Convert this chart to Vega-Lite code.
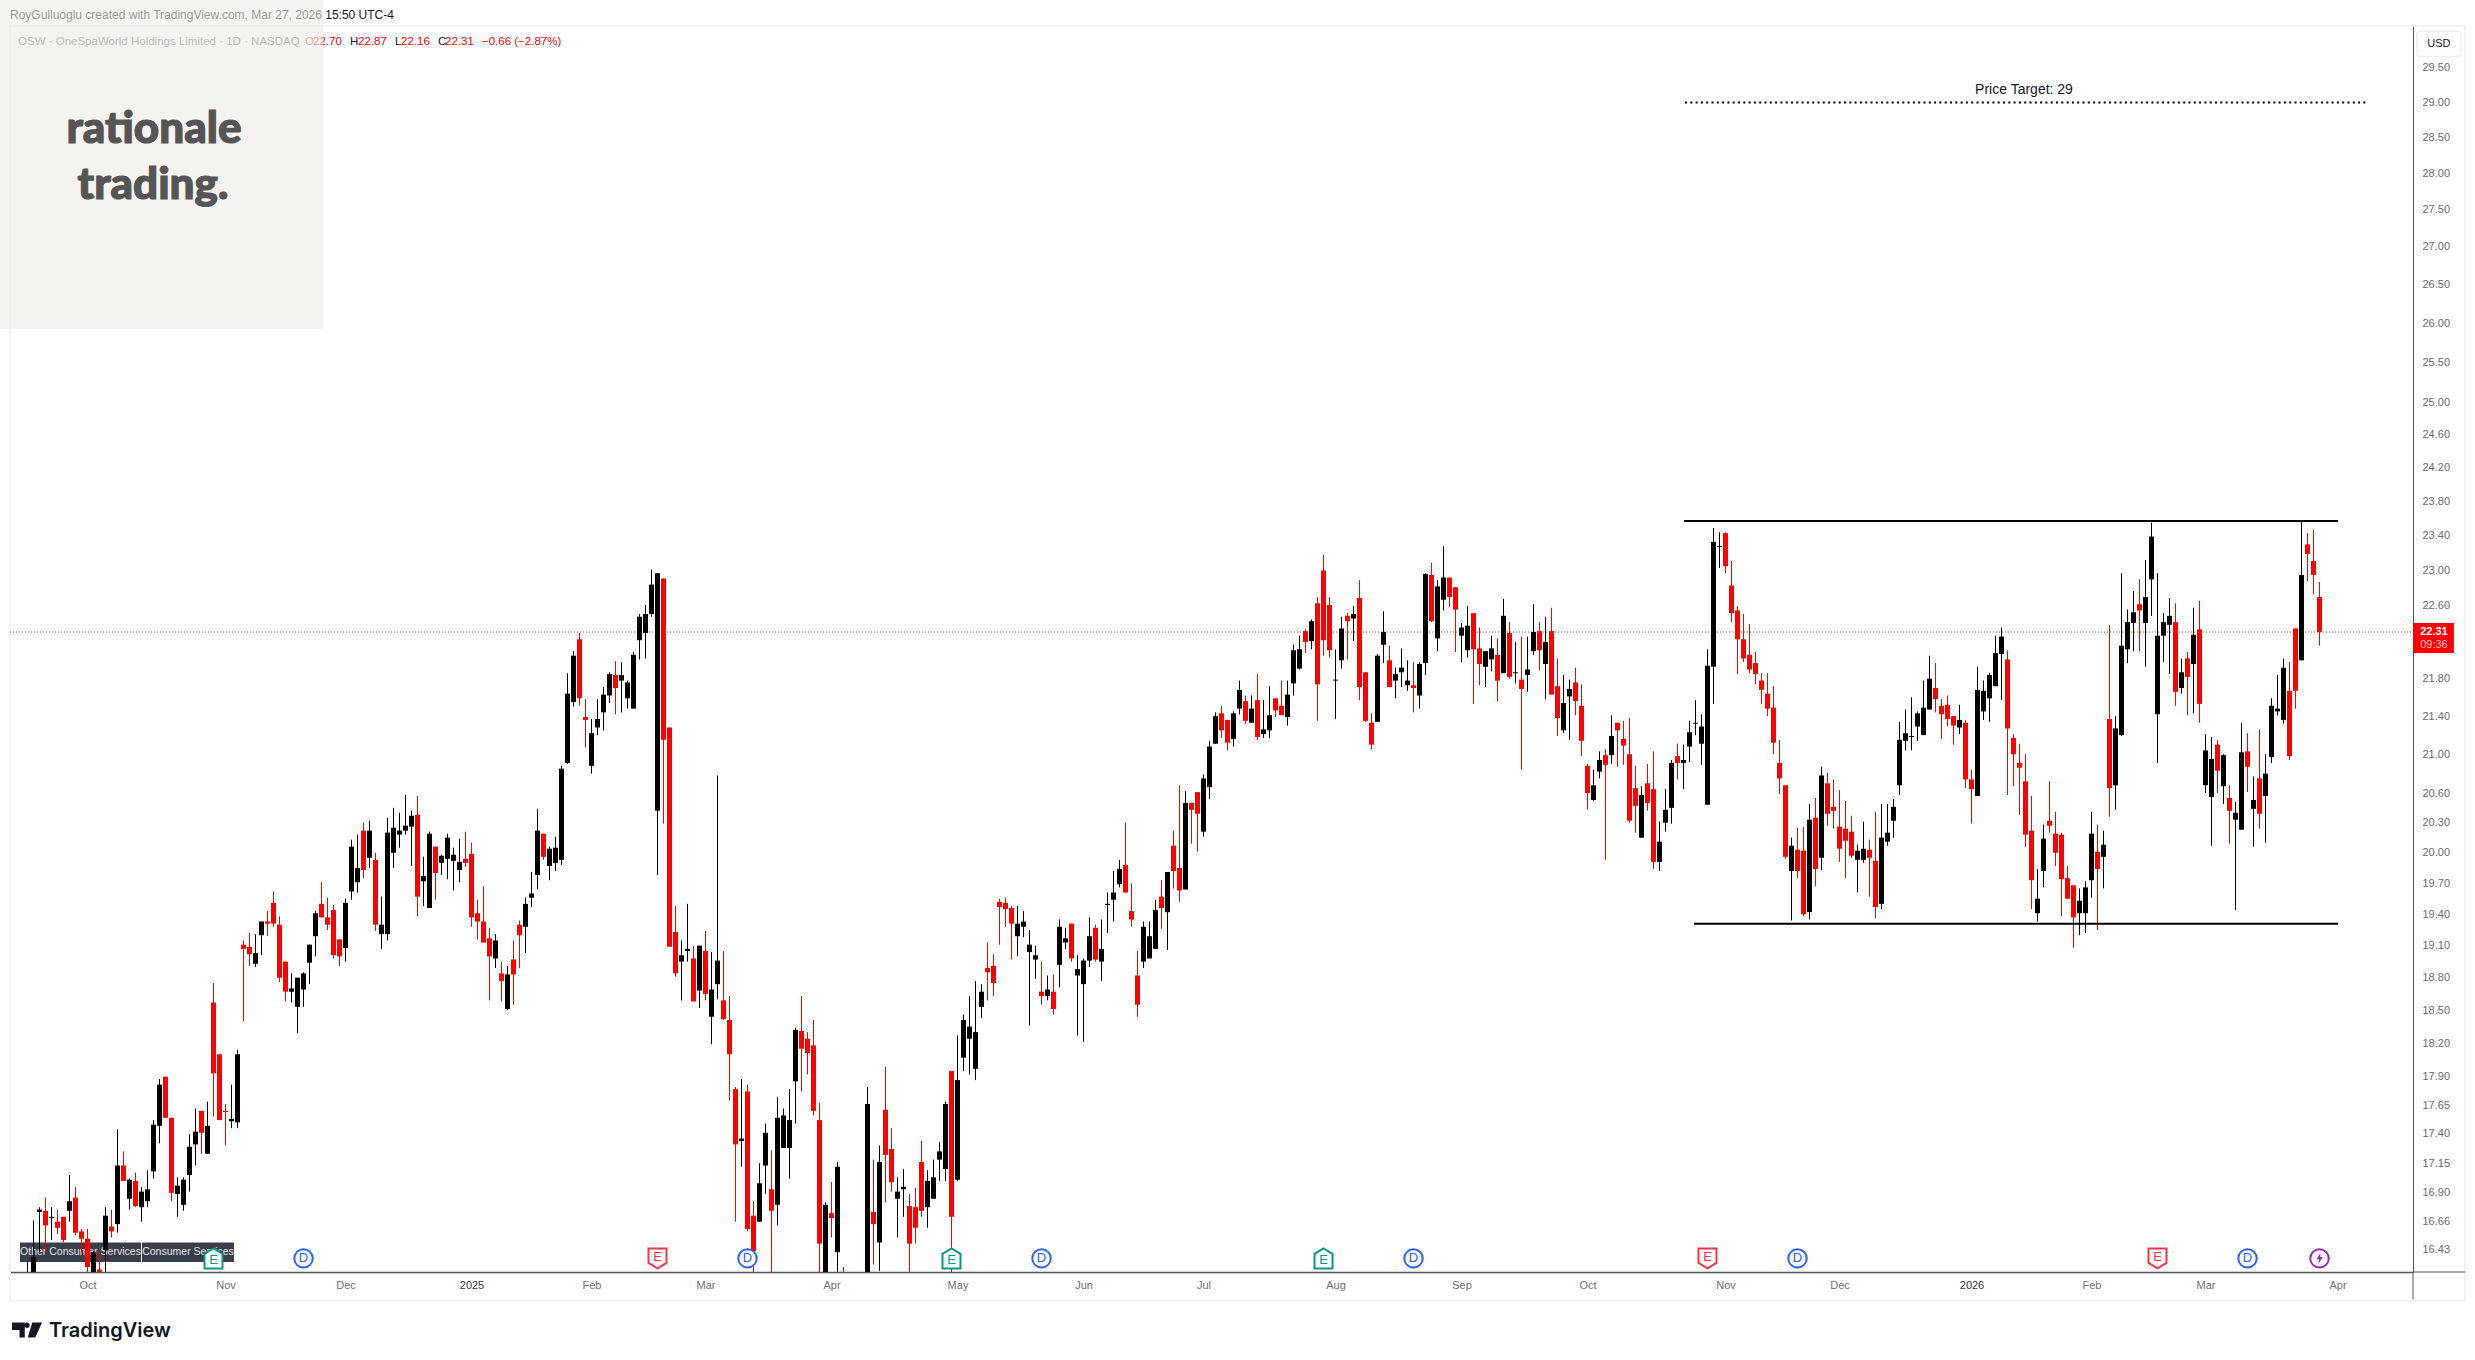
{"$schema":"https://vega.github.io/schema/vega-lite/v6.json","autosize":{"type":"none"},"width":2403,"height":1246,"padding":{"left":10,"top":26,"right":62,"bottom":88},"background":"#ffffff","config":{"view":{"stroke":null},"text":{"font":"Liberation Sans"}},
"datasets":{"ohlc":[
{"i":0,"o":15.9,"h":16.33,"l":15.7,"c":16.2},{"i":1,"o":16.0,"h":16.67,"l":15.9,"c":16.37},{"i":2,"o":16.74,"h":16.78,"l":16.41,"c":16.76},{"i":3,"o":16.75,"h":16.86,"l":16.41,"c":16.63},{"i":4,"o":16.69,"h":16.78,"l":16.51,"c":16.7},{"i":5,"o":16.66,"h":16.76,"l":16.56,"c":16.61},{"i":6,"o":16.7,"h":16.7,"l":16.49,"c":16.51},{"i":7,"o":16.75,"h":17.05,"l":16.66,"c":16.83},{"i":8,"o":16.86,"h":16.95,"l":16.55,"c":16.57},{"i":9,"o":16.58,"h":16.6,"l":16.41,"c":16.52},
{"i":10,"o":16.52,"h":16.6,"l":16.2,"c":16.29},{"i":11,"o":16.0,"h":16.42,"l":15.9,"c":16.41},{"i":12,"o":16.27,"h":16.42,"l":16.1,"c":16.24},{"i":13,"o":16.43,"h":16.78,"l":16.2,"c":16.71},{"i":14,"o":16.62,"h":16.76,"l":16.53,"c":16.58},{"i":15,"o":16.64,"h":17.44,"l":16.57,"c":17.13},{"i":16,"o":17.13,"h":17.25,"l":17.0,"c":17.0},{"i":17,"o":16.85,"h":17.02,"l":16.76,"c":17.01},{"i":18,"o":17.0,"h":17.07,"l":16.78,"c":16.79},{"i":19,"o":16.78,"h":16.95,"l":16.66,"c":16.91},
{"i":20,"o":16.83,"h":17.09,"l":16.78,"c":16.93},{"i":21,"o":17.08,"h":17.52,"l":17.02,"c":17.48},{"i":22,"o":17.47,"h":17.88,"l":17.32,"c":17.83},{"i":23,"o":17.9,"h":17.9,"l":17.54,"c":17.54},{"i":24,"o":17.54,"h":17.54,"l":16.83,"c":16.9},{"i":25,"o":16.89,"h":17.03,"l":16.7,"c":16.96},{"i":26,"o":16.8,"h":17.03,"l":16.75,"c":17.01},{"i":27,"o":17.05,"h":17.4,"l":16.91,"c":17.29},{"i":28,"o":17.31,"h":17.62,"l":17.13,"c":17.42},{"i":29,"o":17.6,"h":17.6,"l":17.23,"c":17.41},
{"i":30,"o":17.23,"h":17.68,"l":17.23,"c":17.47},{"i":31,"o":18.57,"h":18.75,"l":17.55,"c":17.93},{"i":32,"o":18.1,"h":18.1,"l":17.52,"c":17.52},{"i":33,"o":17.6,"h":17.66,"l":17.3,"c":17.59},{"i":34,"o":17.51,"h":17.83,"l":17.45,"c":17.53},{"i":35,"o":17.5,"h":18.14,"l":17.45,"c":18.1},{"i":36,"o":19.11,"h":19.15,"l":18.4,"c":19.07},{"i":37,"o":19.09,"h":19.22,"l":18.91,"c":19.02},{"i":38,"o":18.93,"h":19.21,"l":18.9,"c":19.03},{"i":39,"o":19.2,"h":19.33,"l":19.01,"c":19.33},
{"i":40,"o":19.33,"h":19.43,"l":19.19,"c":19.31},{"i":41,"o":19.51,"h":19.62,"l":19.28,"c":19.31},{"i":42,"o":19.3,"h":19.38,"l":18.76,"c":18.8},{"i":43,"o":18.95,"h":18.95,"l":18.58,"c":18.67},{"i":44,"o":18.67,"h":18.84,"l":18.57,"c":18.7},{"i":45,"o":18.53,"h":18.8,"l":18.29,"c":18.8},{"i":46,"o":18.69,"h":18.85,"l":18.53,"c":18.84},{"i":47,"o":18.94,"h":19.11,"l":18.74,"c":19.11},{"i":48,"o":19.19,"h":19.43,"l":19.0,"c":19.41},{"i":49,"o":19.5,"h":19.71,"l":19.37,"c":19.37},
{"i":50,"o":19.37,"h":19.56,"l":19.25,"c":19.3},{"i":51,"o":19.44,"h":19.49,"l":18.98,"c":19.01},{"i":52,"o":19.16,"h":19.16,"l":18.91,"c":19.0},{"i":53,"o":19.08,"h":19.55,"l":18.95,"c":19.51},{"i":54,"o":19.62,"h":20.13,"l":19.54,"c":20.06},{"i":55,"o":19.71,"h":20.18,"l":19.61,"c":19.85},{"i":56,"o":20.22,"h":20.3,"l":19.75,"c":19.83},{"i":57,"o":19.95,"h":20.32,"l":19.85,"c":20.22},{"i":58,"o":19.93,"h":20.0,"l":19.24,"c":19.3},{"i":59,"o":19.21,"h":19.57,"l":19.07,"c":19.3},
{"i":60,"o":19.21,"h":20.35,"l":19.15,"c":20.2},{"i":61,"o":20.0,"h":20.45,"l":19.85,"c":20.25},{"i":62,"o":20.18,"h":20.4,"l":20.05,"c":20.22},{"i":63,"o":20.22,"h":20.58,"l":20.18,"c":20.27},{"i":64,"o":20.26,"h":20.42,"l":19.87,"c":20.37},{"i":65,"o":20.38,"h":20.57,"l":19.38,"c":19.57},{"i":66,"o":19.72,"h":19.96,"l":19.48,"c":19.77},{"i":67,"o":19.46,"h":20.21,"l":19.46,"c":20.19},{"i":68,"o":20.06,"h":20.06,"l":19.54,"c":19.8},{"i":69,"o":19.9,"h":19.98,"l":19.78,"c":19.97},
{"i":70,"o":19.94,"h":20.19,"l":19.74,"c":20.15},{"i":71,"o":19.92,"h":20.05,"l":19.63,"c":19.98},{"i":72,"o":19.83,"h":20.14,"l":19.71,"c":19.91},{"i":73,"o":19.94,"h":20.21,"l":19.86,"c":19.9},{"i":74,"o":19.99,"h":20.1,"l":19.28,"c":19.37},{"i":75,"o":19.41,"h":19.54,"l":19.16,"c":19.33},{"i":76,"o":19.33,"h":19.67,"l":19.13,"c":19.13},{"i":77,"o":19.17,"h":19.27,"l":18.59,"c":19.0},{"i":78,"o":18.98,"h":19.21,"l":18.89,"c":19.15},{"i":79,"o":18.84,"h":18.95,"l":18.58,"c":18.77},
{"i":80,"o":18.51,"h":18.91,"l":18.5,"c":18.83},{"i":81,"o":18.97,"h":19.15,"l":18.55,"c":18.83},{"i":82,"o":19.3,"h":19.34,"l":18.89,"c":19.2},{"i":83,"o":19.28,"h":19.56,"l":19.03,"c":19.5},{"i":84,"o":19.56,"h":19.81,"l":19.47,"c":19.6},{"i":85,"o":19.78,"h":20.44,"l":19.64,"c":20.22},{"i":86,"o":20.19,"h":20.19,"l":19.93,"c":19.96},{"i":87,"o":19.87,"h":20.06,"l":19.73,"c":20.04},{"i":88,"o":19.9,"h":20.16,"l":19.82,"c":20.05},{"i":89,"o":19.93,"h":20.88,"l":19.88,"c":20.85},
{"i":90,"o":20.91,"h":21.86,"l":20.9,"c":21.64},{"i":91,"o":21.55,"h":22.1,"l":21.5,"c":22.05},{"i":92,"o":22.23,"h":22.3,"l":21.51,"c":21.59},{"i":93,"o":21.39,"h":21.58,"l":21.07,"c":21.36},{"i":94,"o":20.88,"h":21.37,"l":20.8,"c":21.22},{"i":95,"o":21.28,"h":21.58,"l":21.2,"c":21.37},{"i":96,"o":21.44,"h":21.71,"l":21.25,"c":21.63},{"i":97,"o":21.62,"h":21.87,"l":21.54,"c":21.85},{"i":98,"o":21.84,"h":21.99,"l":21.42,"c":21.7},{"i":99,"o":21.78,"h":21.98,"l":21.44,"c":21.84},
{"i":100,"o":21.59,"h":21.78,"l":21.48,"c":21.76},{"i":101,"o":21.48,"h":22.09,"l":21.48,"c":22.06},{"i":102,"o":22.22,"h":22.51,"l":22.01,"c":22.48},{"i":103,"o":22.3,"h":22.61,"l":22.02,"c":22.51},{"i":104,"o":22.51,"h":23.01,"l":22.48,"c":22.84},{"i":105,"o":20.42,"h":22.97,"l":19.78,"c":22.97},{"i":106,"o":22.91,"h":22.91,"l":20.29,"c":21.15},{"i":107,"o":21.28,"h":21.28,"l":19.09,"c":19.09},{"i":108,"o":19.23,"h":19.48,"l":18.81,"c":18.84},{"i":109,"o":18.95,"h":19.15,"l":18.59,"c":19.01},
{"i":110,"o":19.05,"h":19.5,"l":18.95,"c":19.07},{"i":111,"o":18.98,"h":19.1,"l":18.58,"c":18.58},{"i":112,"o":18.68,"h":19.1,"l":18.52,"c":19.1},{"i":113,"o":19.05,"h":19.24,"l":18.59,"c":18.65},{"i":114,"o":18.44,"h":19.04,"l":18.19,"c":18.69},{"i":115,"o":18.74,"h":20.78,"l":18.6,"c":18.96},{"i":116,"o":18.59,"h":19.05,"l":18.41,"c":18.42},{"i":117,"o":18.41,"h":18.63,"l":17.69,"c":18.1},{"i":118,"o":17.79,"h":17.81,"l":16.66,"c":17.31},{"i":119,"o":17.34,"h":17.88,"l":17.12,"c":17.36},
{"i":120,"o":17.77,"h":17.83,"l":16.58,"c":16.6},{"i":121,"o":16.71,"h":16.83,"l":16.24,"c":16.42},{"i":122,"o":16.66,"h":17.15,"l":16.66,"c":16.98},{"i":123,"o":17.13,"h":17.49,"l":16.89,"c":17.41},{"i":124,"o":16.93,"h":17.26,"l":16.1,"c":16.75},{"i":125,"o":16.8,"h":17.72,"l":16.63,"c":17.54},{"i":126,"o":17.28,"h":17.62,"l":17.28,"c":17.56},{"i":127,"o":17.28,"h":17.79,"l":17.02,"c":17.52},{"i":128,"o":17.86,"h":18.34,"l":17.49,"c":18.32},{"i":129,"o":18.31,"h":18.63,"l":17.77,"c":18.15},
{"i":130,"o":18.24,"h":18.3,"l":17.92,"c":18.11},{"i":131,"o":18.18,"h":18.41,"l":17.56,"c":17.6},{"i":132,"o":17.52,"h":17.67,"l":16.0,"c":16.48},{"i":133,"o":16.0,"h":16.82,"l":15.9,"c":16.8},{"i":134,"o":16.73,"h":16.99,"l":16.53,"c":16.69},{"i":135,"o":16.41,"h":17.16,"l":16.1,"c":17.12},{"i":136,"o":16.1,"h":16.29,"l":15.6,"c":15.8},{"i":137,"o":15.6,"h":16.1,"l":15.4,"c":15.9},{"i":138,"o":15.4,"h":16.1,"l":15.3,"c":15.8},{"i":139,"o":15.5,"h":16.15,"l":15.4,"c":16.0},
{"i":140,"o":15.9,"h":17.81,"l":15.7,"c":17.66},{"i":141,"o":16.74,"h":17.18,"l":16.31,"c":16.64},{"i":142,"o":16.49,"h":17.3,"l":16.26,"c":17.16},{"i":143,"o":17.61,"h":17.99,"l":16.82,"c":17.22},{"i":144,"o":17.27,"h":17.45,"l":16.91,"c":16.99},{"i":145,"o":16.85,"h":17.03,"l":16.53,"c":16.91},{"i":146,"o":16.93,"h":17.1,"l":16.7,"c":16.95},{"i":147,"o":16.79,"h":16.89,"l":16.1,"c":16.48},{"i":148,"o":16.78,"h":16.94,"l":16.48,"c":16.61},{"i":149,"o":17.16,"h":17.34,"l":16.7,"c":16.75},
{"i":150,"o":16.78,"h":17.09,"l":16.61,"c":17.0},{"i":151,"o":16.85,"h":17.18,"l":16.85,"c":17.03},{"i":152,"o":17.18,"h":17.33,"l":17.0,"c":17.25},{"i":153,"o":17.1,"h":17.68,"l":17.0,"c":17.66},{"i":154,"o":17.95,"h":17.95,"l":16.2,"c":16.7},{"i":155,"o":17.01,"h":18.27,"l":17.0,"c":17.87},{"i":156,"o":18.07,"h":18.46,"l":17.95,"c":18.41},{"i":157,"o":18.24,"h":18.63,"l":17.92,"c":18.35},{"i":158,"o":17.97,"h":18.77,"l":17.87,"c":18.3},{"i":159,"o":18.53,"h":18.74,"l":18.43,"c":18.67},
{"i":160,"o":18.89,"h":19.13,"l":18.59,"c":18.85},{"i":161,"o":18.91,"h":19.02,"l":18.63,"c":18.75},{"i":162,"o":19.52,"h":19.55,"l":19.11,"c":19.47},{"i":163,"o":19.51,"h":19.56,"l":19.28,"c":19.45},{"i":164,"o":19.46,"h":19.48,"l":18.97,"c":19.31},{"i":165,"o":19.19,"h":19.48,"l":19.0,"c":19.31},{"i":166,"o":19.28,"h":19.43,"l":19.18,"c":19.33},{"i":167,"o":19.04,"h":19.25,"l":18.36,"c":19.11},{"i":168,"o":18.97,"h":19.1,"l":18.79,"c":19.01},{"i":169,"o":18.67,"h":18.95,"l":18.55,"c":18.63},
{"i":170,"o":18.63,"h":18.82,"l":18.59,"c":18.69},{"i":171,"o":18.67,"h":18.83,"l":18.46,"c":18.51},{"i":172,"o":18.92,"h":19.35,"l":18.71,"c":19.28},{"i":173,"o":19.13,"h":19.27,"l":19.07,"c":19.17},{"i":174,"o":19.31,"h":19.31,"l":18.95,"c":18.98},{"i":175,"o":18.82,"h":19.01,"l":18.27,"c":18.88},{"i":176,"o":18.74,"h":18.98,"l":18.21,"c":18.96},{"i":177,"o":18.96,"h":19.37,"l":18.9,"c":19.19},{"i":178,"o":19.27,"h":19.3,"l":18.95,"c":18.97},{"i":179,"o":18.95,"h":19.35,"l":18.77,"c":19.07},
{"i":180,"o":19.49,"h":19.61,"l":19.22,"c":19.5},{"i":181,"o":19.54,"h":19.82,"l":19.33,"c":19.61},{"i":182,"o":19.69,"h":19.93,"l":19.66,"c":19.84},{"i":183,"o":19.88,"h":20.3,"l":19.61,"c":19.61},{"i":184,"o":19.43,"h":19.7,"l":19.28,"c":19.35},{"i":185,"o":18.82,"h":19.05,"l":18.44,"c":18.55},{"i":186,"o":18.95,"h":19.33,"l":18.89,"c":19.28},{"i":187,"o":18.98,"h":19.33,"l":18.98,"c":19.19},{"i":188,"o":19.07,"h":19.54,"l":19.07,"c":19.44},{"i":189,"o":19.57,"h":19.73,"l":19.26,"c":19.46},
{"i":190,"o":19.42,"h":19.81,"l":19.06,"c":19.81},{"i":191,"o":20.07,"h":20.22,"l":19.65,"c":19.82},{"i":192,"o":19.85,"h":20.68,"l":19.52,"c":19.63},{"i":193,"o":19.64,"h":20.62,"l":19.64,"c":20.5},{"i":194,"o":20.5,"h":20.5,"l":20.09,"c":20.43},{"i":195,"o":20.61,"h":20.61,"l":20.01,"c":20.39},{"i":196,"o":20.21,"h":20.79,"l":20.16,"c":20.75},{"i":197,"o":20.66,"h":21.14,"l":20.54,"c":21.08},{"i":198,"o":21.11,"h":21.44,"l":21.11,"c":21.4},{"i":199,"o":21.43,"h":21.51,"l":21.17,"c":21.25},
{"i":200,"o":21.36,"h":21.36,"l":21.04,"c":21.12},{"i":201,"o":21.16,"h":21.45,"l":21.08,"c":21.43},{"i":202,"o":21.48,"h":21.78,"l":21.42,"c":21.68},{"i":203,"o":21.56,"h":21.62,"l":21.32,"c":21.35},{"i":204,"o":21.33,"h":21.62,"l":21.33,"c":21.48},{"i":205,"o":21.57,"h":21.85,"l":21.15,"c":21.18},{"i":206,"o":21.21,"h":21.57,"l":21.17,"c":21.26},{"i":207,"o":21.25,"h":21.72,"l":21.17,"c":21.41},{"i":208,"o":21.59,"h":21.59,"l":21.39,"c":21.46},{"i":209,"o":21.51,"h":21.78,"l":21.41,"c":21.41},
{"i":210,"o":21.39,"h":21.78,"l":21.3,"c":21.63},{"i":211,"o":21.75,"h":22.17,"l":21.62,"c":22.11},{"i":212,"o":21.91,"h":22.27,"l":21.9,"c":22.12},{"i":213,"o":22.32,"h":22.34,"l":22.08,"c":22.2},{"i":214,"o":22.21,"h":22.45,"l":22.12,"c":22.43},{"i":215,"o":22.63,"h":22.7,"l":21.35,"c":21.74},{"i":216,"o":23.0,"h":23.18,"l":22.05,"c":22.22},{"i":217,"o":22.61,"h":22.7,"l":22.03,"c":22.11},{"i":218,"o":21.78,"h":22.12,"l":21.37,"c":21.79},{"i":219,"o":22.0,"h":22.48,"l":21.91,"c":22.35},
{"i":220,"o":22.49,"h":22.52,"l":22.01,"c":22.43},{"i":221,"o":22.46,"h":22.6,"l":22.21,"c":22.51},{"i":222,"o":22.69,"h":22.89,"l":21.57,"c":21.71},{"i":223,"o":21.87,"h":21.87,"l":21.34,"c":21.35},{"i":224,"o":21.33,"h":21.43,"l":21.05,"c":21.1},{"i":225,"o":21.34,"h":22.07,"l":21.34,"c":22.05},{"i":226,"o":22.17,"h":22.54,"l":21.97,"c":22.31},{"i":227,"o":22.0,"h":22.16,"l":21.71,"c":21.71},{"i":228,"o":21.78,"h":21.92,"l":21.59,"c":21.85},{"i":229,"o":21.87,"h":22.13,"l":21.71,"c":21.92},
{"i":230,"o":21.73,"h":22.0,"l":21.67,"c":21.78},{"i":231,"o":21.73,"h":21.98,"l":21.44,"c":21.7},{"i":232,"o":21.62,"h":21.98,"l":21.48,"c":21.96},{"i":233,"o":21.97,"h":22.97,"l":21.84,"c":22.96},{"i":234,"o":22.95,"h":23.09,"l":22.42,"c":22.43},{"i":235,"o":22.24,"h":22.89,"l":22.1,"c":22.82},{"i":236,"o":22.67,"h":23.28,"l":22.55,"c":22.92},{"i":237,"o":22.92,"h":22.92,"l":22.59,"c":22.7},{"i":238,"o":22.81,"h":22.81,"l":22.09,"c":22.56},{"i":239,"o":22.27,"h":22.41,"l":21.98,"c":22.36},
{"i":240,"o":22.11,"h":22.6,"l":22.03,"c":22.38},{"i":241,"o":22.52,"h":22.52,"l":21.53,"c":22.12},{"i":242,"o":22.13,"h":22.36,"l":21.73,"c":21.96},{"i":243,"o":21.93,"h":22.1,"l":21.71,"c":22.1},{"i":244,"o":22.01,"h":22.27,"l":21.88,"c":22.13},{"i":245,"o":22.06,"h":22.24,"l":21.56,"c":21.78},{"i":246,"o":21.86,"h":22.68,"l":21.86,"c":22.49},{"i":247,"o":22.3,"h":22.42,"l":21.8,"c":21.82},{"i":248,"o":21.86,"h":22.2,"l":21.75,"c":21.87},{"i":249,"o":21.79,"h":22.26,"l":20.84,"c":21.69},
{"i":250,"o":21.84,"h":22.26,"l":21.66,"c":21.9},{"i":251,"o":22.1,"h":22.62,"l":22.06,"c":22.31},{"i":252,"o":22.32,"h":22.42,"l":21.89,"c":22.11},{"i":253,"o":21.96,"h":22.48,"l":21.58,"c":22.2},{"i":254,"o":22.32,"h":22.58,"l":21.63,"c":21.63},{"i":255,"o":21.72,"h":22.02,"l":21.19,"c":21.38},{"i":256,"o":21.25,"h":21.84,"l":21.22,"c":21.54},{"i":257,"o":21.61,"h":21.79,"l":21.15,"c":21.69},{"i":258,"o":21.76,"h":21.92,"l":21.41,"c":21.56},{"i":259,"o":21.51,"h":21.74,"l":20.98,"c":21.14},
{"i":260,"o":20.88,"h":20.9,"l":20.43,"c":20.6},{"i":261,"o":20.53,"h":20.84,"l":20.52,"c":20.68},{"i":262,"o":20.82,"h":21.03,"l":20.75,"c":20.94},{"i":263,"o":20.99,"h":21.05,"l":19.93,"c":20.89},{"i":264,"o":20.99,"h":21.41,"l":20.9,"c":21.19},{"i":265,"o":21.33,"h":21.33,"l":20.87,"c":21.25},{"i":266,"o":21.16,"h":21.35,"l":20.89,"c":21.09},{"i":267,"o":21.0,"h":21.38,"l":20.3,"c":20.32},{"i":268,"o":20.65,"h":20.88,"l":20.2,"c":20.47},{"i":269,"o":20.15,"h":20.67,"l":20.15,"c":20.58},
{"i":270,"o":20.7,"h":20.9,"l":20.42,"c":20.5},{"i":271,"o":20.64,"h":21.03,"l":19.84,"c":19.91},{"i":272,"o":19.91,"h":20.31,"l":19.82,"c":20.11},{"i":273,"o":20.3,"h":20.64,"l":20.21,"c":20.43},{"i":274,"o":20.45,"h":20.94,"l":20.29,"c":20.91},{"i":275,"o":20.98,"h":21.11,"l":20.74,"c":20.91},{"i":276,"o":20.91,"h":21.1,"l":20.64,"c":20.94},{"i":277,"o":21.08,"h":21.35,"l":20.92,"c":21.23},{"i":278,"o":21.32,"h":21.57,"l":21.2,"c":21.33},{"i":279,"o":21.11,"h":21.42,"l":20.89,"c":21.29},
{"i":280,"o":20.48,"h":22.12,"l":20.48,"c":21.94},{"i":281,"o":21.93,"h":23.49,"l":21.53,"c":23.33},{"i":282,"o":23.27,"h":23.44,"l":23.03,"c":23.28},{"i":283,"o":23.43,"h":23.44,"l":22.97,"c":23.05},{"i":284,"o":22.83,"h":23.11,"l":22.42,"c":22.52},{"i":285,"o":22.55,"h":22.6,"l":21.85,"c":22.23},{"i":286,"o":22.23,"h":22.51,"l":21.98,"c":22.02},{"i":287,"o":22.06,"h":22.4,"l":21.86,"c":21.9},{"i":288,"o":21.97,"h":22.09,"l":21.74,"c":21.85},{"i":289,"o":21.78,"h":21.86,"l":21.53,"c":21.68},
{"i":290,"o":21.64,"h":21.86,"l":21.4,"c":21.48},{"i":291,"o":21.49,"h":21.72,"l":21.0,"c":21.12},{"i":292,"o":20.91,"h":21.15,"l":20.59,"c":20.75},{"i":293,"o":20.68,"h":20.68,"l":19.94,"c":19.96},{"i":294,"o":19.82,"h":20.15,"l":19.34,"c":20.07},{"i":295,"o":20.03,"h":20.25,"l":19.75,"c":19.82},{"i":296,"o":20.02,"h":20.26,"l":19.38,"c":19.4},{"i":297,"o":19.42,"h":20.49,"l":19.35,"c":20.33},{"i":298,"o":20.35,"h":20.55,"l":19.67,"c":19.84},{"i":299,"o":19.95,"h":20.87,"l":19.83,"c":20.78},
{"i":300,"o":20.7,"h":20.81,"l":20.27,"c":20.39},{"i":301,"o":20.46,"h":20.74,"l":20.24,"c":20.42},{"i":302,"o":20.26,"h":20.63,"l":19.91,"c":20.04},{"i":303,"o":20.24,"h":20.52,"l":19.75,"c":20.12},{"i":304,"o":20.21,"h":20.37,"l":19.95,"c":19.97},{"i":305,"o":19.93,"h":20.08,"l":19.61,"c":20.02},{"i":306,"o":19.93,"h":20.31,"l":19.9,"c":20.04},{"i":307,"o":20.03,"h":20.13,"l":19.57,"c":19.95},{"i":308,"o":19.92,"h":20.41,"l":19.36,"c":19.47},{"i":309,"o":19.5,"h":20.49,"l":19.45,"c":20.15},
{"i":310,"o":20.11,"h":20.49,"l":20.07,"c":20.2},{"i":311,"o":20.32,"h":20.54,"l":20.15,"c":20.46},{"i":312,"o":20.68,"h":21.34,"l":20.58,"c":21.15},{"i":313,"o":21.14,"h":21.47,"l":21.04,"c":21.22},{"i":314,"o":21.18,"h":21.6,"l":21.04,"c":21.19},{"i":315,"o":21.29,"h":21.45,"l":21.14,"c":21.43},{"i":316,"o":21.2,"h":21.78,"l":21.2,"c":21.49},{"i":317,"o":21.47,"h":22.05,"l":21.47,"c":21.8},{"i":318,"o":21.7,"h":21.97,"l":21.44,"c":21.58},{"i":319,"o":21.51,"h":21.58,"l":21.16,"c":21.42},
{"i":320,"o":21.52,"h":21.62,"l":21.29,"c":21.37},{"i":321,"o":21.4,"h":21.4,"l":21.1,"c":21.3},{"i":322,"o":21.28,"h":21.52,"l":21.21,"c":21.36},{"i":323,"o":21.33,"h":21.36,"l":20.65,"c":20.74},{"i":324,"o":20.74,"h":20.84,"l":20.29,"c":20.64},{"i":325,"o":20.57,"h":21.93,"l":20.57,"c":21.68},{"i":326,"o":21.45,"h":21.78,"l":21.36,"c":21.67},{"i":327,"o":21.59,"h":21.86,"l":21.34,"c":21.84},{"i":328,"o":21.72,"h":22.27,"l":21.72,"c":22.08},{"i":329,"o":22.07,"h":22.36,"l":21.57,"c":22.26},
{"i":330,"o":22.01,"h":22.11,"l":20.58,"c":21.27},{"i":331,"o":21.17,"h":21.21,"l":20.67,"c":21.0},{"i":332,"o":20.91,"h":21.11,"l":20.38,"c":20.86},{"i":333,"o":20.72,"h":21.0,"l":20.06,"c":20.18},{"i":334,"o":20.22,"h":20.57,"l":19.45,"c":19.73},{"i":335,"o":19.41,"h":19.84,"l":19.33,"c":19.55},{"i":336,"o":19.82,"h":20.28,"l":19.66,"c":20.14},{"i":337,"o":20.32,"h":20.72,"l":20.2,"c":20.27},{"i":338,"o":20.19,"h":20.41,"l":19.87,"c":20.0},{"i":339,"o":20.18,"h":20.2,"l":19.38,"c":19.74},
{"i":340,"o":19.75,"h":19.87,"l":19.55,"c":19.55},{"i":341,"o":19.68,"h":19.68,"l":19.08,"c":19.37},{"i":342,"o":19.41,"h":19.65,"l":19.2,"c":19.53},{"i":343,"o":19.41,"h":19.72,"l":19.22,"c":19.66},{"i":344,"o":19.73,"h":20.41,"l":19.56,"c":20.19},{"i":345,"o":20.01,"h":20.28,"l":19.25,"c":19.84},{"i":346,"o":19.96,"h":20.22,"l":19.65,"c":20.08},{"i":347,"o":21.37,"h":22.39,"l":20.36,"c":20.65},{"i":348,"o":20.68,"h":21.4,"l":20.43,"c":21.27},{"i":349,"o":21.2,"h":22.97,"l":21.19,"c":22.16},
{"i":350,"o":22.12,"h":22.56,"l":21.97,"c":22.42},{"i":351,"o":22.41,"h":22.77,"l":22.1,"c":22.53},{"i":352,"o":22.62,"h":22.9,"l":22.1,"c":22.55},{"i":353,"o":22.41,"h":23.12,"l":21.93,"c":22.7},{"i":354,"o":22.9,"h":23.55,"l":22.49,"c":23.39},{"i":355,"o":21.42,"h":22.97,"l":20.91,"c":22.27},{"i":356,"o":22.27,"h":22.52,"l":21.98,"c":22.42},{"i":357,"o":22.39,"h":22.69,"l":21.85,"c":22.49},{"i":358,"o":22.42,"h":22.63,"l":21.51,"c":21.66},{"i":359,"o":21.7,"h":22.02,"l":21.64,"c":21.87},
{"i":360,"o":22.02,"h":22.09,"l":21.41,"c":21.82},{"i":361,"o":21.96,"h":22.58,"l":21.43,"c":22.28},{"i":362,"o":22.34,"h":22.66,"l":21.33,"c":21.53},{"i":363,"o":20.68,"h":21.21,"l":20.6,"c":21.04},{"i":364,"o":20.56,"h":21.18,"l":20.07,"c":20.95},{"i":365,"o":21.1,"h":21.15,"l":20.6,"c":20.83},{"i":366,"o":20.67,"h":21.0,"l":20.49,"c":20.99},{"i":367,"o":20.55,"h":20.68,"l":20.09,"c":20.42},{"i":368,"o":20.33,"h":20.51,"l":19.44,"c":20.4},{"i":369,"o":20.23,"h":21.33,"l":20.23,"c":21.02},
{"i":370,"o":21.03,"h":21.22,"l":20.61,"c":20.87},{"i":371,"o":20.44,"h":20.77,"l":20.06,"c":20.53},{"i":372,"o":20.75,"h":21.26,"l":20.24,"c":20.39},{"i":373,"o":20.57,"h":21.0,"l":20.1,"c":20.8},{"i":374,"o":20.97,"h":21.59,"l":20.91,"c":21.51},{"i":375,"o":21.45,"h":21.84,"l":21.41,"c":21.48},{"i":376,"o":21.36,"h":22.02,"l":21.32,"c":21.92},{"i":377,"o":21.67,"h":21.98,"l":20.94,"c":20.98},{"i":378,"o":22.35,"h":22.35,"l":21.48,"c":21.67},{"i":379,"o":22.0,"h":23.57,"l":22.0,"c":22.95},
{"i":380,"o":23.3,"h":23.43,"l":22.88,"c":23.19},{"i":381,"o":23.11,"h":23.47,"l":22.73,"c":22.95},{"i":382,"o":22.7,"h":22.87,"l":22.16,"c":22.31}
]},
"encoding":{
"x":{"field":"i","type":"quantitative","title":null,"scale":{"domain":[-2.9167,397.5833],"nice":false,"zero":false,"padding":0},"axis":{"orient":"bottom","title":null,"grid":false,"ticks":false,"domain":true,"domainColor":"#555555","domainWidth":1.5,"labelPadding":7,"labelFontSize":11,"labelFont":"Liberation Sans","labelColor":{"expr":"datum.value==74||datum.value==324?'#333333':'#707070'"},"labelOverlap":false,"labelFlush":false,"labelBound":false,"values":[10,33,53,74,94,113,134,155,176,196,218,239,260,283,302,324,344,363,385],"labelExpr":"({'10':'Oct','33':'Nov','53':'Dec','74':'2025','94':'Feb','113':'Mar','134':'Apr','155':'May','176':'Jun','196':'Jul','218':'Aug','239':'Sep','260':'Oct','283':'Nov','302':'Dec','324':'2026','344':'Feb','363':'Mar','385':'Apr'})[datum.value]"}},
"y":{"field":"p","type":"quantitative","title":null,"scale":{"type":"log","domain":[16.25,30.12],"nice":false,"zero":false},"axis":{"orient":"right","title":null,"grid":false,"ticks":false,"domain":true,"domainColor":"#555555","domainWidth":1,"labelPadding":9,"labelFontSize":11,"labelFont":"Liberation Sans","labelColor":"#6a6a6a","labelOverlap":false,"labelBound":false,"format":".2f","values":[29.5,29,28.5,28,27.5,27,26.5,26,25.5,25,24.6,24.2,23.8,23.4,23,22.6,21.8,21.4,21,20.6,20.3,20,19.7,19.4,19.1,18.8,18.5,18.2,17.9,17.65,17.4,17.15,16.9,16.66,16.43]}}
},
"layer":[
{"data":{"values":[{"i":-2.9167,"i2":406.25,"p":30.12,"p2":16.02}]},"mark":{"type":"rect","fill":null,"stroke":"#f2f2f2","strokeWidth":2},"encoding":{"x2":{"field":"i2"},"y2":{"field":"p2"}}},
{"data":{"values":[{"i":397.5833,"i2":397.5833,"p":16.25,"p2":16.03},{"i":397.5833,"i2":406.25,"p":16.25,"p2":16.25}]},"mark":{"type":"rule","stroke":"#555555","strokeWidth":1},"encoding":{"x2":{"field":"i2"},"y2":{"field":"p2"}}},
{"data":{"values":[{"i":-2.9167,"i2":397.5833,"p":22.31}]},"mark":{"type":"rule","stroke":"#f23030","strokeWidth":1,"strokeDash":[1,2]},"encoding":{"x2":{"field":"i2"}}},
{"data":{"values":[{"i":-1.25,"i2":18.92,"p":16.49,"p2":16.33},{"i":19.08,"i2":34.42,"p":16.49,"p2":16.33}]},"mark":{"type":"rect","fill":"#3a3e4a"},"encoding":{"x2":{"field":"i2"},"y2":{"field":"p2"}}},
{"data":{"values":[{"i":8.83,"p":16.41,"t":"Other Consumer Services"},{"i":26.75,"p":16.41,"t":"Consumer Services"}]},"mark":{"type":"text","fontSize":10.5,"font":"Liberation Sans","color":"#e4e4e8"},"encoding":{"text":{"field":"t"}}},
{"data":{"name":"ohlc"},"mark":{"type":"rule","strokeWidth":1,"clip":true},"encoding":{"y":{"field":"l","type":"quantitative","title":null,"axis":{"orient":"right","title":null,"grid":false,"ticks":false,"domain":true,"domainColor":"#555555","domainWidth":1,"labelPadding":9,"labelFontSize":11,"labelFont":"Liberation Sans","labelColor":"#6a6a6a","labelOverlap":false,"labelBound":false,"format":".2f","values":[29.5,29,28.5,28,27.5,27,26.5,26,25.5,25,24.6,24.2,23.8,23.4,23,22.6,21.8,21.4,21,20.6,20.3,20,19.7,19.4,19.1,18.8,18.5,18.2,17.9,17.65,17.4,17.15,16.9,16.66,16.43]}},"y2":{"field":"h"},"color":{"condition":{"test":"datum.c<datum.o","value":"#ff0000"},"value":"#000000"}}},
{"data":{"name":"ohlc"},"mark":{"type":"bar","size":5,"clip":true},"encoding":{"y":{"field":"o","type":"quantitative","title":null,"axis":{"orient":"right","title":null,"grid":false,"ticks":false,"domain":true,"domainColor":"#555555","domainWidth":1,"labelPadding":9,"labelFontSize":11,"labelFont":"Liberation Sans","labelColor":"#6a6a6a","labelOverlap":false,"labelBound":false,"format":".2f","values":[29.5,29,28.5,28,27.5,27,26.5,26,25.5,25,24.6,24.2,23.8,23.4,23,22.6,21.8,21.4,21,20.6,20.3,20,19.7,19.4,19.1,18.8,18.5,18.2,17.9,17.65,17.4,17.15,16.9,16.66,16.43]}},"y2":{"field":"c"},"color":{"condition":{"test":"datum.c<datum.o","value":"#ff0000"},"value":"#000000"}}},
{"data":{"values":[{"i":276.1,"i2":385.1,"p":23.57},{"i":277.75,"i2":385.1,"p":19.31}]},"mark":{"type":"rule","stroke":"#000000","strokeWidth":2},"encoding":{"x2":{"field":"i2"}}},
{"data":{"values":[{"i":276.25,"i2":389.83,"p":29}]},"mark":{"type":"rule","stroke":"#000000","strokeWidth":2,"strokeDash":[2,3.3]},"encoding":{"x2":{"field":"i2"}}},
{"data":{"values":[{"i":332.75,"p":29.18,"t":"Price Target: 29"}]},"mark":{"type":"text","fontSize":14,"font":"Liberation Sans","color":"#131722"},"encoding":{"text":{"field":"t"}}},
{"data":{"values":[{"i":31,"p":16.36},{"i":154,"p":16.36},{"i":216,"p":16.36}]},"mark":{"type":"point","shape":"M-0.9,-0.45 L0,-1 L0.9,-0.45 L0.9,1 L-0.9,1 Z","size":400,"filled":true,"fill":"#ffffff","fillOpacity":1,"stroke":"#089981","strokeWidth":2,"opacity":1}},
{"data":{"values":[{"i":105,"p":16.36},{"i":280,"p":16.36},{"i":355,"p":16.36}]},"mark":{"type":"point","shape":"M-0.9,-1 L0.9,-1 L0.9,0.45 L0,1 L-0.9,0.45 Z","size":400,"filled":true,"fill":"#ffffff","fillOpacity":1,"stroke":"#f23645","strokeWidth":2,"opacity":1}},
{"data":{"values":[{"i":46,"p":16.36},{"i":120,"p":16.36},{"i":169,"p":16.36},{"i":231,"p":16.36},{"i":295,"p":16.36},{"i":370,"p":16.36}]},"mark":{"type":"point","shape":"circle","size":340,"filled":true,"fill":"#ffffff","fillOpacity":1,"stroke":"#2962ff","strokeWidth":2,"opacity":1}},
{"data":{"values":[{"i":382,"p":16.36}]},"mark":{"type":"point","shape":"circle","size":340,"filled":true,"fill":"#ffffff","fillOpacity":1,"stroke":"#9c27b0","strokeWidth":2,"opacity":1}},
{"data":{"values":[{"i":382,"p":16.36}]},"mark":{"type":"point","shape":"M0.2,-1 L-0.55,0.15 L-0.08,0.15 L-0.2,1 L0.55,-0.25 L0.08,-0.25 Z","size":130,"filled":true,"fill":"#9c27b0","opacity":1}},
{"data":{"values":[{"i":31,"p":16.35,"t":"E","k":"g"},{"i":154,"p":16.35,"t":"E","k":"g"},{"i":216,"p":16.35,"t":"E","k":"g"},{"i":105,"p":16.37,"t":"E","k":"r"},{"i":280,"p":16.37,"t":"E","k":"r"},{"i":355,"p":16.37,"t":"E","k":"r"},{"i":46,"p":16.36,"t":"D","k":"b"},{"i":120,"p":16.36,"t":"D","k":"b"},{"i":169,"p":16.36,"t":"D","k":"b"},{"i":231,"p":16.36,"t":"D","k":"b"},{"i":295,"p":16.36,"t":"D","k":"b"},{"i":370,"p":16.36,"t":"D","k":"b"}]},"mark":{"type":"text","fontSize":13,"font":"Liberation Sans"},"encoding":{"text":{"field":"t"},"color":{"condition":[{"test":"datum.k=='g'","value":"#089981"},{"test":"datum.k=='r'","value":"#f23645"}],"value":"#2962ff"}}},
{"data":{"values":[{"i":-2.92,"p":30.28,"t":"RoyGulluoglu created with TradingView.com, Mar 27, 2026 15:50 UTC-4"}]},"mark":{"type":"text","align":"left","fontSize":12,"font":"Liberation Sans","color":"#131722"},"encoding":{"text":{"field":"t"}}},
{"data":{"values":[{"i":-1.58,"p":29.88,"t":"OSW · OneSpaWorld Holdings Limited · 1D · NASDAQ"},{"i":46.25,"p":29.88,"t":"O"}]},"mark":{"type":"text","align":"left","fontSize":11.5,"font":"Liberation Sans","color":"#707070"},"encoding":{"text":{"field":"t"}}},
{"data":{"values":[{"i":47.6,"p":29.88,"t":"22.70"},{"i":55.1,"p":29.88,"t":"22.87"},{"i":62.25,"p":29.88,"t":"22.16"},{"i":69.6,"p":29.88,"t":"22.31"},{"i":75.75,"p":29.88,"t":"−0.66 (−2.87%)"}]},"mark":{"type":"text","align":"left","fontSize":11.5,"font":"Liberation Sans","color":"#ff0000"},"encoding":{"text":{"field":"t"}}},
{"data":{"values":[{"i":53.75,"p":29.88,"t":"H"},{"i":61.25,"p":29.88,"t":"L"},{"i":68.4,"p":29.88,"t":"C"}]},"mark":{"type":"text","align":"left","fontSize":11.5,"font":"Liberation Sans","color":"#131722"},"encoding":{"text":{"field":"t"}}},
{"data":{"values":[{"i":-4.58,"i2":49.25,"p":30.51,"p2":25.92}]},"mark":{"type":"rect","fill":"#edebe4","opacity":0.6},"encoding":{"x2":{"field":"i2"},"y2":{"field":"p2"}}},
{"data":{"values":[{"i":21.08,"p":28.43,"t":"rationale"},{"i":20.92,"p":27.64,"t":"trading."}]},"mark":{"type":"text","align":"center","baseline":"alphabetic","fontSize":44,"font":"Lato","fontWeight":900,"color":"#555555","stroke":"#555555","strokeWidth":1.2},"encoding":{"text":{"field":"t"}}},
{"data":{"values":[{"i":398.25,"i2":405.58,"p":30.04,"p2":29.67}]},"mark":{"type":"rect","fill":"#ffffff","stroke":"#f0f0f0","strokeWidth":1.5,"cornerRadius":3},"encoding":{"x2":{"field":"i2"},"y2":{"field":"p2"}}},
{"data":{"values":[{"i":401.9,"p":29.85,"t":"USD"}]},"mark":{"type":"text","fontSize":11,"font":"Liberation Sans","color":"#131722"},"encoding":{"text":{"field":"t"}}},
{"data":{"values":[{"i":397.5833,"i2":404.4,"p":22.41,"p2":22.08}]},"mark":{"type":"rect","fill":"#ff0000"},"encoding":{"x2":{"field":"i2"},"y2":{"field":"p2"}}},
{"data":{"values":[{"i":401.08,"p":22.31,"t":"22.31"}]},"mark":{"type":"text","fontSize":11,"fontWeight":"bold","font":"Liberation Sans","color":"#ffffff"},"encoding":{"text":{"field":"t"}}},
{"data":{"values":[{"i":401.08,"p":22.17,"t":"09:36"}]},"mark":{"type":"text","fontSize":11,"font":"Liberation Sans","color":"#ffc8c8"},"encoding":{"text":{"field":"t"}}},
{"data":{"values":[{"i":-0.08,"p":15.79}]},"mark":{"type":"point","shape":"M-1,-0.5 L-0.15,-0.5 L-0.15,0.5 L-0.5,0.5 L-0.5,0 L-1,0 Z M0.35,-0.5 L1,-0.5 L0.55,0.5 L0.05,0.5 Z M0.0,-0.5 A0.18,0.18 0 1 1 0.0,-0.14 A0.18,0.18 0 1 1 0.0,-0.5 Z","size":900,"filled":true,"fill":"#131722","opacity":1}},
{"data":{"values":[{"i":3.58,"p":15.78,"t":"TradingView"}]},"mark":{"type":"text","align":"left","fontSize":20,"font":"Inter","fontWeight":600,"color":"#131722"},"encoding":{"text":{"field":"t"}}}
]}
